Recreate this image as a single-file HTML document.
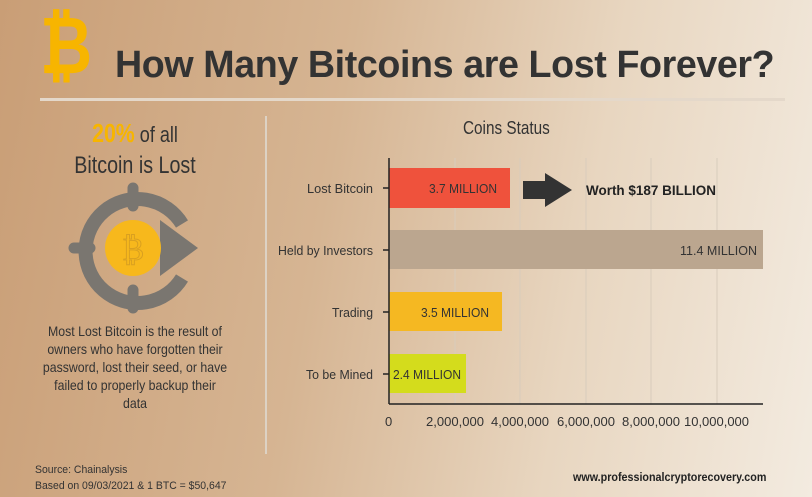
<!DOCTYPE html>
<html><head><meta charset="utf-8"><style>
*{margin:0;padding:0}
body{width:812px;height:497px;overflow:hidden;background:linear-gradient(100deg,#c99e76 0%,#d6b593 40%,#e8d6c0 70%,#f3ebe0 100%);font-family:"Liberation Sans",sans-serif;position:relative}
.t{position:absolute;white-space:nowrap}
.c{transform:scaleX(0.82);transform-origin:center top}
</style></head><body>
<div class="t" style="left:40px;top:4px;font-size:80px;font-weight:bold;color:#f7b500;font-family:'DejaVu Sans',sans-serif;line-height:84px;transform:scaleX(0.8);transform-origin:left top">₿</div>
<div class="t" style="left:115px;top:44px;font-size:38px;font-weight:bold;color:#333;letter-spacing:-0.4px;transform:scaleX(0.99);transform-origin:left top">How Many Bitcoins are Lost Forever?</div>
<div style="position:absolute;left:40px;top:98px;width:745px;height:3px;background:#e4d8ca"></div>
<div style="position:absolute;left:265px;top:116px;width:2px;height:338px;background:#ddd2c4"></div>
<div class="t c" style="left:30px;top:118px;width:210px;text-align:center;font-size:22px;color:#333"><b style="color:#f7b500;font-size:26px">20%</b> of all</div>
<div class="t c" style="left:30px;top:152px;width:210px;text-align:center;font-size:24px;color:#333">Bitcoin is Lost</div>
<svg style="position:absolute;left:60px;top:180px" width="150" height="140">
<path d="M122 44 A52 52 0 1 0 122 98" fill="none" stroke="#7a7670" stroke-width="14"/>
<g stroke="#7a7670" stroke-width="11" stroke-linecap="round"><line x1="73" y1="8" x2="73" y2="26"/><line x1="73" y1="110" x2="73" y2="128"/><line x1="14" y1="68" x2="30" y2="68"/></g>
<polygon points="100,40 138,68 100,96" fill="#7a7670"/>
<circle cx="73" cy="68" r="28" fill="#f7b81c"/>
<text x="73" y="80" text-anchor="middle" font-size="32" fill="none" stroke="#d9a020" stroke-width="1" font-family="DejaVu Sans">₿</text>
</svg>
<div class="t" style="left:5px;top:322px;width:260px;text-align:center;font-size:14px;line-height:18px;color:#333;transform:scaleX(0.88);transform-origin:center top">Most Lost Bitcoin is the result of<br>owners who have forgotten their<br>password, lost their seed, or have<br>failed to properly backup their<br>data</div>
<div class="t" style="left:35px;top:462px;font-size:11px;line-height:16px;color:#333;transform:scaleX(0.95);transform-origin:left top">Source: Chainalysis<br>Based on 09/03/2021 &amp; 1 BTC = $50,647</div>
<div class="t" style="left:573px;top:470px;font-size:12px;font-weight:bold;color:#222;transform:scaleX(0.895);transform-origin:left top">www.professionalcryptorecovery.com</div>
<div class="t" style="left:463px;top:118px;font-size:18px;color:#333;transform:scaleX(0.85);transform-origin:left top">Coins Status</div>
<svg style="position:absolute;left:0;top:0" width="812" height="497">
<g stroke="#d8ccbc" stroke-width="1"><line x1="455" y1="158" x2="455" y2="404"/><line x1="520" y1="158" x2="520" y2="404"/><line x1="586" y1="158" x2="586" y2="404"/><line x1="651" y1="158" x2="651" y2="404"/><line x1="717" y1="158" x2="717" y2="404"/></g>
<rect x="389" y="168" width="121" height="40" fill="#ef523c"/>
<rect x="389" y="230" width="374" height="39" fill="#bba68f"/>
<rect x="389" y="292" width="113" height="39" fill="#f5b822"/>
<rect x="389" y="354" width="77" height="39" fill="#d4dc1c"/>
<g stroke="#222" stroke-width="1.5"><line x1="389" y1="158" x2="389" y2="404"/><line x1="389" y1="404" x2="763" y2="404"/>
<line x1="383" y1="188" x2="389" y2="188"/><line x1="383" y1="250" x2="389" y2="250"/><line x1="383" y1="312" x2="389" y2="312"/><line x1="383" y1="374" x2="389" y2="374"/></g>
<polygon points="523,181 545,181 545,173 572,190 545,207 545,199 523,199" fill="#333"/>
<g font-family="Liberation Sans,sans-serif" font-size="13" fill="#333">
<text x="307" y="193" textLength="66" lengthAdjust="spacingAndGlyphs">Lost Bitcoin</text>
<text x="278" y="255" textLength="95" lengthAdjust="spacingAndGlyphs">Held by Investors</text>
<text x="332" y="317" textLength="41" lengthAdjust="spacingAndGlyphs">Trading</text>
<text x="306" y="379" textLength="67" lengthAdjust="spacingAndGlyphs">To be Mined</text>
<text x="429" y="193" textLength="68" lengthAdjust="spacingAndGlyphs">3.7 MILLION</text>
<text x="680" y="255" textLength="77" lengthAdjust="spacingAndGlyphs">11.4 MILLION</text>
<text x="421" y="317" textLength="68" lengthAdjust="spacingAndGlyphs">3.5 MILLION</text>
<text x="393" y="379" textLength="68" lengthAdjust="spacingAndGlyphs">2.4 MILLION</text>
<text x="586" y="195" font-weight="bold" font-size="14" fill="#222" textLength="130" lengthAdjust="spacingAndGlyphs">Worth $187 BILLION</text>
<text x="385" y="426">0</text>
<text x="426" y="426" textLength="58" lengthAdjust="spacingAndGlyphs">2,000,000</text>
<text x="491" y="426" textLength="58" lengthAdjust="spacingAndGlyphs">4,000,000</text>
<text x="557" y="426" textLength="58" lengthAdjust="spacingAndGlyphs">6,000,000</text>
<text x="622" y="426" textLength="58" lengthAdjust="spacingAndGlyphs">8,000,000</text>
<text x="684" y="426" textLength="65" lengthAdjust="spacingAndGlyphs">10,000,000</text>
</g>
</svg>
</body></html>
